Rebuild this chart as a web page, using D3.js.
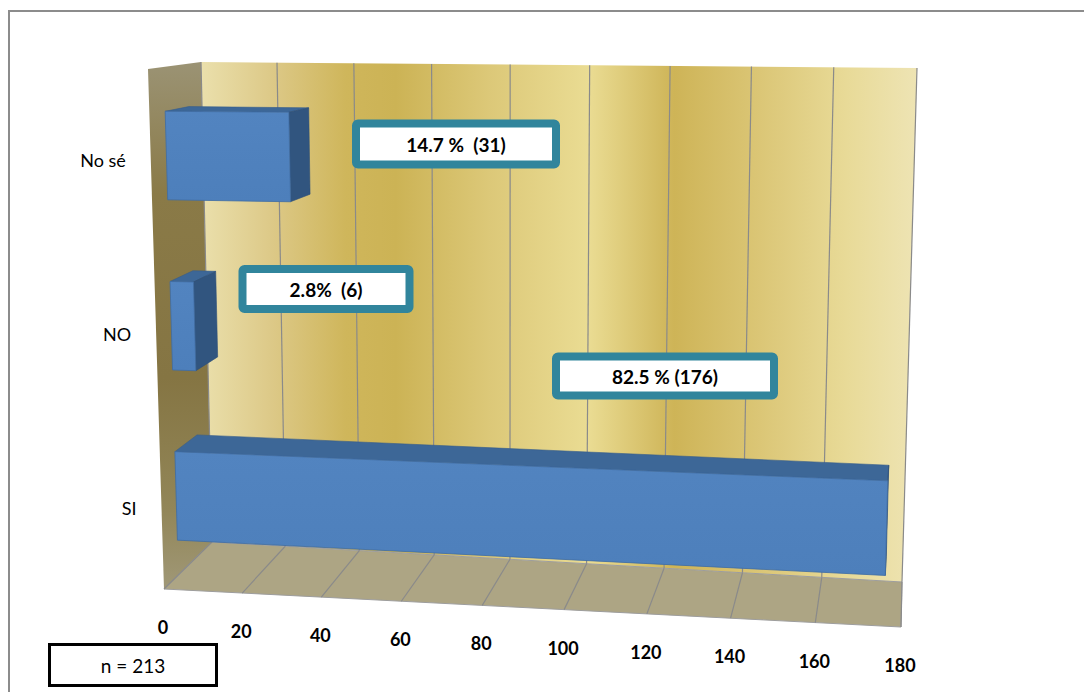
<!DOCTYPE html>
<html>
<head>
<meta charset="utf-8">
<script src="https://cdn.jsdelivr.net/npm/d3@7"></script>
<style>
  body { margin: 0; background: #fff; }
  svg { display: block; }
  text { font-family: Lato, "Open Sans", "DejaVu Sans", sans-serif; }
</style>
</head>
<body>
<svg id="chart" width="1084" height="692"></svg>
<script>
// ---- data ----
const categories = ["SI", "NO", "No sé"];
const counts = [176, 6, 31];
const percents = ["82.5 %", "2.8%", "14.7 %"];
const separators = [" ", "  ", "  "];
const tickValues = [0, 20, 40, 60, 80, 100, 120, 140, 160, 180];
const sampleNote = "n = 213";

// ---- layout ----
const W = 1084, H = 692;
// corners of the 3-D box (back plane d=0, front plane d=1)
const box = {
  back:  { tl: [201, 62],  tr: [917, 68], bl: [212, 542], br: [902, 582] },
  front: { tl: [148, 69],  tr: [915, 70], bl: [164, 589], br: [901, 627] }
};
const perspective = -0.05;          // foreshortening along the value axis
const barDepth = [0.25, 0.7];       // bar extent in depth
const barFill = 0.52;               // bar thickness relative to band step
const calloutCenters = [[665, 376], [326, 289], [456, 144]];
const calloutSizes = [[226, 47], [175, 48], [208, 49]];

const svg = d3.select("#chart");

// outer frame
svg.append("rect").attr("x", 9).attr("y", 11).attr("width", W).attr("height", H)
  .attr("fill", "#fff").attr("stroke", "#8c8c8c").attr("stroke-width", 2);

const xScale = d3.scaleLinear().domain([0, 180]).range([0, 1]);
const vScale = d3.scalePoint().domain(categories).range([-0.012, 0.993]).padding(0.5);
const step = vScale.step();

const lerp = (a, b, t) => [a[0] + (b[0] - a[0]) * t, a[1] + (b[1] - a[1]) * t];
const warp = f => f * (1 + perspective) / (1 + perspective * f);

function project(u, v, d) {
  const f = warp(xScale(u));
  const onPlane = c => lerp(lerp(c.bl, c.br, f), lerp(c.tl, c.tr, f), v);
  return lerp(onPlane(box.back), onPlane(box.front), d);
}
const quad = pts => "M" + pts.map(p => p[0].toFixed(2) + "," + p[1].toFixed(2)).join("L") + "Z";

// ---- gradients ----
const defs = svg.append("defs");
const backGrad = defs.append("linearGradient").attr("id", "backWall")
  .attr("gradientUnits", "userSpaceOnUse")
  .attr("x1", 203).attr("x2", 917).attr("y1", 0).attr("y2", 0);
[[0, "#eadfab"], [0.1, "#dcc886"], [0.2, "#cfb65b"], [0.27, "#ccb355"],
 [0.4, "#dcc878"], [0.54, "#eadc93"], [0.66, "#ceb457"], [0.78, "#dbc676"],
 [0.9, "#e8da97"], [1, "#eee4b4"]]
  .forEach(([o, c]) => backGrad.append("stop").attr("offset", o).attr("stop-color", c));

const sideGrad = defs.append("linearGradient").attr("id", "sideWall")
  .attr("gradientUnits", "userSpaceOnUse")
  .attr("x1", 0).attr("x2", 0).attr("y1", 62).attr("y2", 589);
[[0, "#9b9374"], [0.25, "#8a7a47"], [0.6, "#857543"], [0.85, "#928658"], [1, "#a09877"]]
  .forEach(([o, c]) => sideGrad.append("stop").attr("offset", o).attr("stop-color", c));

const frontGrad = defs.append("linearGradient").attr("id", "barFront")
  .attr("x1", 0).attr("x2", 0).attr("y1", 0).attr("y2", 1);
[[0, "#5284c0"], [1, "#4d7fbb"]]
  .forEach(([o, c]) => frontGrad.append("stop").attr("offset", o).attr("stop-color", c));

// ---- walls and floor ----
const walls = svg.append("g");
walls.append("path")
  .attr("d", quad([project(0, 0, 0), project(180, 0, 0), project(180, 1, 0), project(0, 1, 0)]))
  .attr("fill", "url(#backWall)");
walls.append("path")
  .attr("d", quad([project(0, 0, 0), project(0, 0, 1), project(0, 1, 1), project(0, 1, 0)]))
  .attr("fill", "url(#sideWall)");
walls.append("path")
  .attr("d", quad([project(0, 0, 0), project(180, 0, 0), project(180, 0, 1), project(0, 0, 1)]))
  .attr("fill", "#ada584").attr("stroke", "#9d9d9d").attr("stroke-width", 1);

// gridlines on the back wall and the floor
const grid = svg.append("g").attr("stroke", "#8a8a8a").attr("stroke-width", 1.2).attr("fill", "none");
grid.selectAll("path.back").data(tickValues).join("path").attr("class", "back")
  .attr("d", t => d3.line()([project(t, 0, 0), project(t, 1, 0)]));
grid.selectAll("path.floor").data(tickValues).join("path").attr("class", "floor")
  .attr("d", t => d3.line()([project(t, 0, 0), project(t, 0, 1)]));

// ---- bars ----
const bars = svg.append("g").selectAll("g").data(categories.map((c, i) => ({ c, n: counts[i] })))
  .join("g");
const half = step * barFill / 2;
bars.each(function (d) {
  const g = d3.select(this);
  const v0 = vScale(d.c) - half, v1 = vScale(d.c) + half;
  const [d0, d1] = barDepth;
  // top face
  g.append("path").attr("d", quad([project(0, v1, d1), project(d.n, v1, d1), project(d.n, v1, d0), project(0, v1, d0)]))
    .attr("fill", "#3d6797").attr("stroke", "#355d8c").attr("stroke-width", 0.6);
  // end face
  g.append("path").attr("d", quad([project(d.n, v0, d1), project(d.n, v0, d0), project(d.n, v1, d0), project(d.n, v1, d1)]))
    .attr("fill", "#31557f").attr("stroke", "#2d4f78").attr("stroke-width", 0.6);
  // front face
  g.append("path").attr("d", quad([project(0, v0, d1), project(d.n, v0, d1), project(d.n, v1, d1), project(0, v1, d1)]))
    .attr("fill", "url(#barFront)").attr("stroke", "#3f6ca3").attr("stroke-width", 0.8);
});

// ---- axis labels ----
svg.append("g").selectAll("text").data(tickValues).join("text")
  .attr("x", t => project(t, 0, 1)[0] - 1)
  .attr("y", t => project(t, 0, 1)[1] + 38)
  .attr("text-anchor", "middle").attr("dominant-baseline", "central")
  .attr("font-size", 18).attr("font-weight", 700).attr("fill", "#000")
  .text(t => t);

svg.append("g").selectAll("text").data(categories).join("text")
  .attr("x", c => project(0, vScale(c), 1)[0] - 25)
  .attr("y", c => project(0, vScale(c), 1)[1])
  .attr("text-anchor", "end").attr("dominant-baseline", "central")
  .attr("font-size", 18).attr("fill", "#000")
  .text(c => c);

// ---- value callouts ----
const callouts = svg.append("g").selectAll("g").data(categories).join("g")
  .attr("transform", (c, i) => `translate(${calloutCenters[i][0]},${calloutCenters[i][1]})`);
callouts.append("rect")
  .attr("x", (c, i) => -calloutSizes[i][0] / 2 + 4)
  .attr("y", (c, i) => -calloutSizes[i][1] / 2 + 4)
  .attr("width", (c, i) => calloutSizes[i][0] - 8)
  .attr("height", (c, i) => calloutSizes[i][1] - 8)
  .attr("rx", 2).attr("fill", "#fff").attr("stroke", "#31859c").attr("stroke-width", 8);
callouts.append("text")
  .attr("text-anchor", "middle").attr("dominant-baseline", "central")
  .attr("font-size", 19).attr("font-weight", 700).attr("fill", "#000")
  .style("white-space", "pre")
  .text((c, i) => `${percents[i]}${separators[i]}(${counts[i]})`);

// ---- sample size note ----
const note = svg.append("g").attr("transform", "translate(133,665)");
note.append("rect").attr("x", -83.5).attr("y", -20.5).attr("width", 167).attr("height", 41)
  .attr("fill", "#fff").attr("stroke", "#000").attr("stroke-width", 3);
note.append("text").attr("text-anchor", "middle").attr("dominant-baseline", "central")
  .attr("font-size", 19).attr("fill", "#000").text(sampleNote);
</script>
</body>
</html>
